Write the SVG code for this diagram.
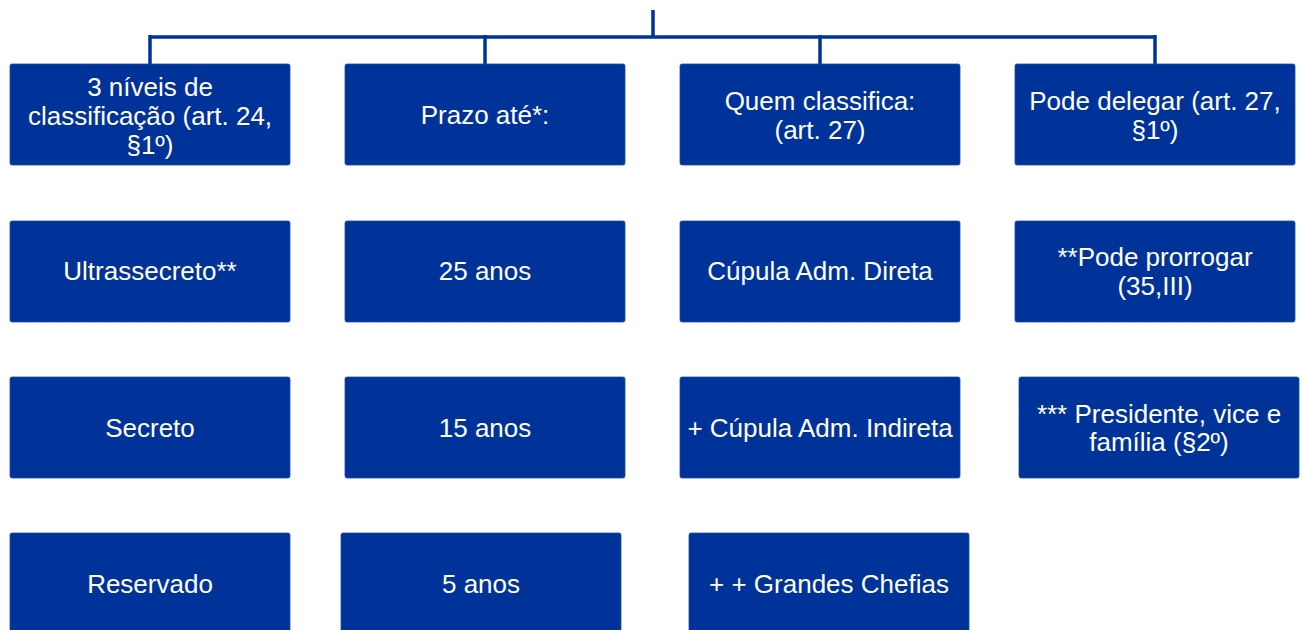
<svg xmlns="http://www.w3.org/2000/svg" width="1303" height="630" viewBox="0 0 1303 630">
<style>
.b{fill:#003399;stroke:#1a4aa8;stroke-width:0.8}
.t{font-family:"Liberation Sans",Arial,sans-serif;font-size:26px;fill:#ffffff;text-anchor:middle}
.c{fill:none;stroke:#003399;stroke-width:3.5}
</style>
<rect width="1303" height="630" fill="#ffffff"/>
<g id="connectors">
<path class="c" d="M653 10V37M150 37H1155M150 35V64M485 35V64M820 35V64M1155 35V64"/>
</g>
<g id="n1"><rect class="b" x="10" y="64" width="280" height="101" rx="2"/><text class="t" x="150" y="96">3 níveis de<tspan x="150" dy="29">classificação (art. 24,</tspan><tspan x="150" dy="29">§1º)</tspan></text></g>
<g id="n2"><rect class="b" x="345" y="64" width="280" height="101" rx="2"/><text class="t" x="485" y="124">Prazo até*:</text></g>
<g id="n3"><rect class="b" x="680" y="64" width="280" height="101" rx="2"/><text class="t" x="820" y="110">Quem classifica:<tspan x="820" dy="29">(art. 27)</tspan></text></g>
<g id="n4"><rect class="b" x="1015" y="64" width="280" height="101" rx="2"/><text class="t" x="1155" y="110">Pode delegar (art. 27,<tspan x="1155" dy="29">§1º)</tspan></text></g>
<g id="n5"><rect class="b" x="10" y="221" width="280" height="101" rx="2"/><text class="t" x="150" y="280">Ultrassecreto**</text></g>
<g id="n6"><rect class="b" x="345" y="221" width="280" height="101" rx="2"/><text class="t" x="485" y="280">25 anos</text></g>
<g id="n7"><rect class="b" x="680" y="221" width="280" height="101" rx="2"/><text class="t" x="820" y="280">Cúpula Adm. Direta</text></g>
<g id="n8"><rect class="b" x="1015" y="221" width="280" height="101" rx="2"/><text class="t" x="1155" y="266">**Pode prorrogar<tspan x="1155" dy="29">(35,III)</tspan></text></g>
<g id="n9"><rect class="b" x="10" y="377" width="280" height="101" rx="2"/><text class="t" x="150" y="437">Secreto</text></g>
<g id="n10"><rect class="b" x="345" y="377" width="280" height="101" rx="2"/><text class="t" x="485" y="437">15 anos</text></g>
<g id="n11"><rect class="b" x="680" y="377" width="280" height="101" rx="2"/><text class="t" x="820" y="437">+ Cúpula Adm. Indireta</text></g>
<g id="n12"><rect class="b" x="1019" y="377" width="280" height="101" rx="2"/><text class="t" x="1159" y="423">*** Presidente, vice e<tspan x="1159" dy="28">família (§2º)</tspan></text></g>
<g id="n13"><rect class="b" x="10" y="533" width="280" height="101" rx="2"/><text class="t" x="150" y="593">Reservado</text></g>
<g id="n14"><rect class="b" x="341" y="533" width="280" height="101" rx="2"/><text class="t" x="481" y="593">5 anos</text></g>
<g id="n15"><rect class="b" x="689" y="533" width="280" height="101" rx="2"/><text class="t" x="829" y="593">+ + Grandes Chefias</text></g>
</svg>
